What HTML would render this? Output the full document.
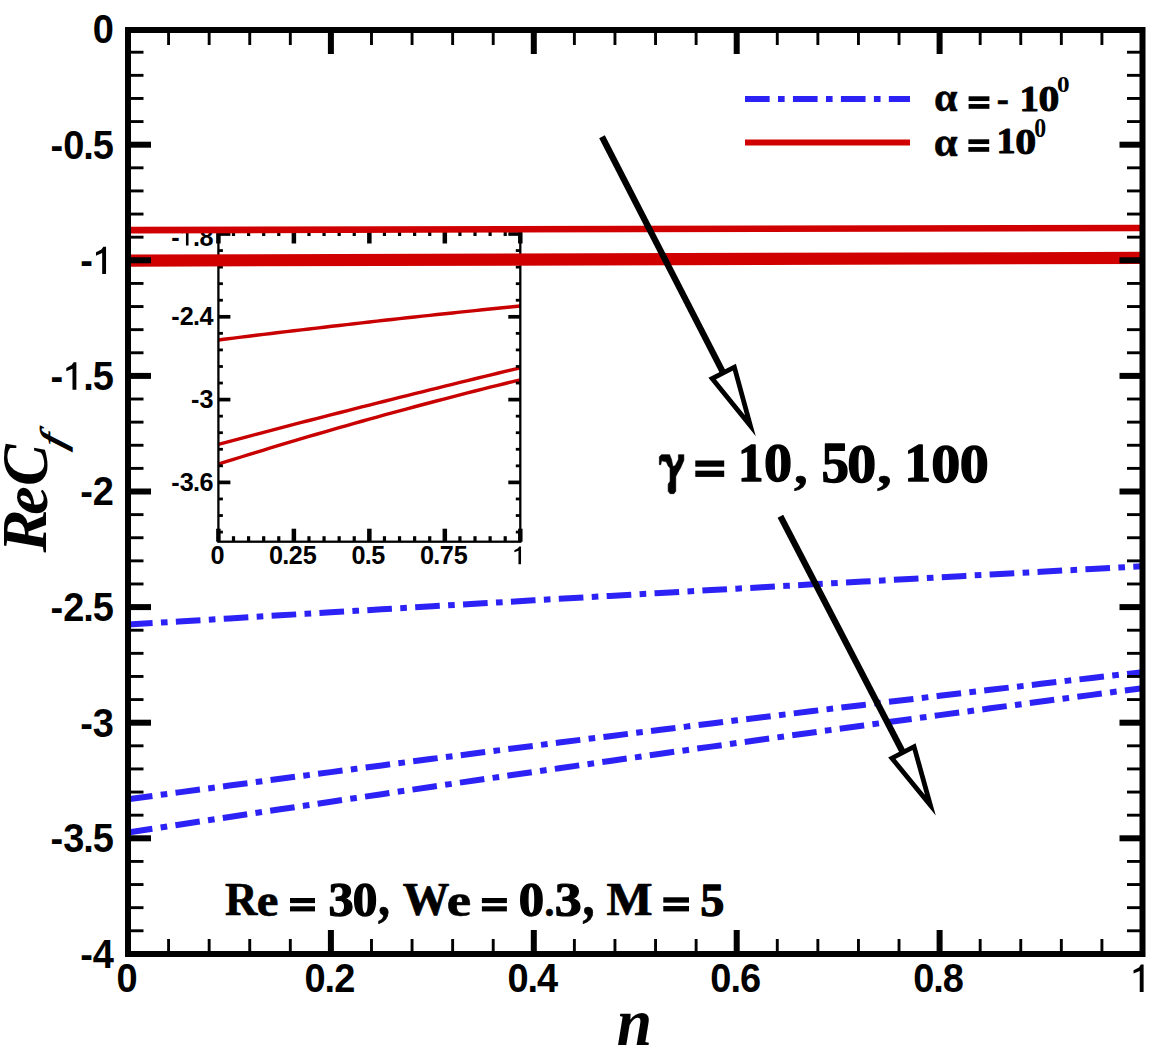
<!DOCTYPE html><html><head><meta charset="utf-8"><style>html,body{margin:0;padding:0;background:#fff;overflow:hidden;}svg{display:block;}.sans{font-family:"Liberation Sans",sans-serif;font-weight:bold;}.serif{font-family:"Liberation Serif",serif;font-weight:bold;}.serifi{font-family:"Liberation Serif",serif;font-weight:bold;font-style:italic;}.serifit{font-family:"Liberation Serif",serif;font-style:italic;}.serifr{font-family:"Liberation Serif",serif;}</style></head><body><svg width="1152" height="1051" viewBox="0 0 1152 1051"><rect x="0" y="0" width="1152" height="1051" fill="#fff"/><polyline points="128.00,624.58 153.36,623.03 178.72,621.48 204.09,619.94 229.45,618.40 254.81,616.87 280.17,615.34 305.54,613.82 330.90,612.30 356.26,610.79 381.62,609.28 406.99,607.78 432.35,606.28 457.71,604.78 483.07,603.29 508.44,601.81 533.80,600.33 559.16,598.85 584.53,597.38 609.89,595.92 635.25,594.46 660.61,593.00 685.98,591.55 711.34,590.10 736.70,588.66 762.06,587.23 787.43,585.79 812.79,584.37 838.15,582.94 863.51,581.53 888.88,580.11 914.24,578.71 939.60,577.30 964.96,575.90 990.32,574.51 1015.69,573.12 1041.05,571.74 1066.41,570.36 1091.78,568.98 1117.14,567.61 1142.50,566.25" fill="none" stroke="#2d22f5" stroke-width="6" stroke-dasharray="24.65 8.35 6.65 8.3" stroke-linecap="butt"/><polyline points="128.00,799.28 153.36,795.83 178.72,792.40 204.09,788.98 229.45,785.58 254.81,782.19 280.17,778.81 305.54,775.45 330.90,772.10 356.26,768.76 381.62,765.44 406.99,762.13 432.35,758.83 457.71,755.55 483.07,752.28 508.44,749.03 533.80,745.79 559.16,742.56 584.53,739.35 609.89,736.15 635.25,732.96 660.61,729.79 685.98,726.63 711.34,723.49 736.70,720.35 762.06,717.24 787.43,714.13 812.79,711.04 838.15,707.97 863.51,704.90 888.88,701.85 914.24,698.82 939.60,695.80 964.96,692.79 990.32,689.79 1015.69,686.81 1041.05,683.84 1066.41,680.89 1091.78,677.95 1117.14,675.02 1142.50,672.11" fill="none" stroke="#2d22f5" stroke-width="6" stroke-dasharray="24.65 8.35 6.65 8.3" stroke-linecap="butt"/><polyline points="128.00,832.50 153.36,828.60 178.72,824.72 204.09,820.85 229.45,816.99 254.81,813.15 280.17,809.33 305.54,805.52 330.90,801.72 356.26,797.94 381.62,794.18 406.99,790.43 432.35,786.69 457.71,782.97 483.07,779.27 508.44,775.58 533.80,771.91 559.16,768.25 584.53,764.60 609.89,760.97 635.25,757.36 660.61,753.76 685.98,750.17 711.34,746.60 736.70,743.05 762.06,739.51 787.43,735.99 812.79,732.48 838.15,728.98 863.51,725.50 888.88,722.04 914.24,718.59 939.60,715.15 964.96,711.74 990.32,708.33 1015.69,704.94 1041.05,701.57 1066.41,698.21 1091.78,694.86 1117.14,691.53 1142.50,688.22" fill="none" stroke="#2d22f5" stroke-width="6" stroke-dasharray="24.65 8.35 6.65 8.3" stroke-linecap="butt"/><polyline points="218.40,340.00 225.95,339.05 233.50,338.11 241.04,337.17 248.59,336.24 256.14,335.31 263.69,334.39 271.23,333.47 278.78,332.56 286.33,331.65 293.88,330.75 301.42,329.85 308.97,328.96 316.52,328.07 324.06,327.19 331.61,326.31 339.16,325.44 346.71,324.57 354.25,323.71 361.80,322.85 369.35,322.00 376.90,321.15 384.44,320.31 391.99,319.47 399.54,318.64 407.09,317.81 414.63,316.99 422.18,316.17 429.73,315.36 437.28,314.55 444.82,313.75 452.37,312.95 459.92,312.16 467.47,311.37 475.01,310.59 482.56,309.81 490.11,309.04 497.66,308.27 505.20,307.51 512.75,306.75 520.30,306.00" fill="none" stroke="#c80000" stroke-width="3.4"/><polyline points="218.40,444.30 225.95,442.29 233.50,440.29 241.04,438.29 248.59,436.29 256.14,434.30 263.69,432.31 271.23,430.34 278.78,428.36 286.33,426.39 293.88,424.43 301.42,422.46 308.97,420.51 316.52,418.56 324.06,416.62 331.61,414.68 339.16,412.74 346.71,410.81 354.25,408.88 361.80,406.97 369.35,405.05 376.90,403.14 384.44,401.24 391.99,399.33 399.54,397.44 407.09,395.55 414.63,393.66 422.18,391.79 429.73,389.91 437.28,388.04 444.82,386.18 452.37,384.31 459.92,382.46 467.47,380.61 475.01,378.77 482.56,376.93 490.11,375.09 497.66,373.26 505.20,371.44 512.75,369.62 520.30,367.80" fill="none" stroke="#c80000" stroke-width="3.4"/><polyline points="218.40,464.10 225.95,461.72 233.50,459.35 241.04,457.00 248.59,454.66 256.14,452.34 263.69,450.03 271.23,447.73 278.78,445.45 286.33,443.18 293.88,440.93 301.42,438.68 308.97,436.46 316.52,434.25 324.06,432.05 331.61,429.86 339.16,427.69 346.71,425.54 354.25,423.39 361.80,421.26 369.35,419.15 376.90,417.05 384.44,414.96 391.99,412.89 399.54,410.83 407.09,408.79 414.63,406.76 422.18,404.74 429.73,402.74 437.28,400.75 444.82,398.77 452.37,396.81 459.92,394.87 467.47,392.94 475.01,391.02 482.56,389.11 490.11,387.22 497.66,385.35 505.20,383.48 512.75,381.63 520.30,379.80" fill="none" stroke="#c80000" stroke-width="3.4"/><rect x="218.4" y="230.5" width="301.9" height="311.20000000000005" fill="none" stroke="#000" stroke-width="2.3"/><line x1="218.4" y1="234.00" x2="230.4" y2="234.00" stroke="#000" stroke-width="3.7"/><line x1="520.3" y1="234.00" x2="508.29999999999995" y2="234.00" stroke="#000" stroke-width="3.7"/><line x1="218.4" y1="250.56" x2="222.9" y2="250.56" stroke="#000" stroke-width="2.8"/><line x1="520.3" y1="250.56" x2="515.8" y2="250.56" stroke="#000" stroke-width="2.8"/><line x1="218.4" y1="267.12" x2="222.9" y2="267.12" stroke="#000" stroke-width="2.8"/><line x1="520.3" y1="267.12" x2="515.8" y2="267.12" stroke="#000" stroke-width="2.8"/><line x1="218.4" y1="283.68" x2="222.9" y2="283.68" stroke="#000" stroke-width="2.8"/><line x1="520.3" y1="283.68" x2="515.8" y2="283.68" stroke="#000" stroke-width="2.8"/><line x1="218.4" y1="300.24" x2="222.9" y2="300.24" stroke="#000" stroke-width="2.8"/><line x1="520.3" y1="300.24" x2="515.8" y2="300.24" stroke="#000" stroke-width="2.8"/><line x1="218.4" y1="316.80" x2="230.4" y2="316.80" stroke="#000" stroke-width="3.7"/><line x1="520.3" y1="316.80" x2="508.29999999999995" y2="316.80" stroke="#000" stroke-width="3.7"/><line x1="218.4" y1="333.36" x2="222.9" y2="333.36" stroke="#000" stroke-width="2.8"/><line x1="520.3" y1="333.36" x2="515.8" y2="333.36" stroke="#000" stroke-width="2.8"/><line x1="218.4" y1="349.92" x2="222.9" y2="349.92" stroke="#000" stroke-width="2.8"/><line x1="520.3" y1="349.92" x2="515.8" y2="349.92" stroke="#000" stroke-width="2.8"/><line x1="218.4" y1="366.48" x2="222.9" y2="366.48" stroke="#000" stroke-width="2.8"/><line x1="520.3" y1="366.48" x2="515.8" y2="366.48" stroke="#000" stroke-width="2.8"/><line x1="218.4" y1="383.04" x2="222.9" y2="383.04" stroke="#000" stroke-width="2.8"/><line x1="520.3" y1="383.04" x2="515.8" y2="383.04" stroke="#000" stroke-width="2.8"/><line x1="218.4" y1="399.60" x2="230.4" y2="399.60" stroke="#000" stroke-width="3.7"/><line x1="520.3" y1="399.60" x2="508.29999999999995" y2="399.60" stroke="#000" stroke-width="3.7"/><line x1="218.4" y1="416.16" x2="222.9" y2="416.16" stroke="#000" stroke-width="2.8"/><line x1="520.3" y1="416.16" x2="515.8" y2="416.16" stroke="#000" stroke-width="2.8"/><line x1="218.4" y1="432.72" x2="222.9" y2="432.72" stroke="#000" stroke-width="2.8"/><line x1="520.3" y1="432.72" x2="515.8" y2="432.72" stroke="#000" stroke-width="2.8"/><line x1="218.4" y1="449.28" x2="222.9" y2="449.28" stroke="#000" stroke-width="2.8"/><line x1="520.3" y1="449.28" x2="515.8" y2="449.28" stroke="#000" stroke-width="2.8"/><line x1="218.4" y1="465.84" x2="222.9" y2="465.84" stroke="#000" stroke-width="2.8"/><line x1="520.3" y1="465.84" x2="515.8" y2="465.84" stroke="#000" stroke-width="2.8"/><line x1="218.4" y1="482.40" x2="230.4" y2="482.40" stroke="#000" stroke-width="3.7"/><line x1="520.3" y1="482.40" x2="508.29999999999995" y2="482.40" stroke="#000" stroke-width="3.7"/><line x1="218.4" y1="498.96" x2="222.9" y2="498.96" stroke="#000" stroke-width="2.8"/><line x1="520.3" y1="498.96" x2="515.8" y2="498.96" stroke="#000" stroke-width="2.8"/><line x1="218.4" y1="515.52" x2="222.9" y2="515.52" stroke="#000" stroke-width="2.8"/><line x1="520.3" y1="515.52" x2="515.8" y2="515.52" stroke="#000" stroke-width="2.8"/><line x1="218.4" y1="532.08" x2="222.9" y2="532.08" stroke="#000" stroke-width="2.8"/><line x1="520.3" y1="532.08" x2="515.8" y2="532.08" stroke="#000" stroke-width="2.8"/><line x1="218.40" y1="541.7" x2="218.40" y2="528.7" stroke="#000" stroke-width="4.5"/><line x1="218.40" y1="230.5" x2="218.40" y2="243.5" stroke="#000" stroke-width="4.5"/><line x1="233.50" y1="541.7" x2="233.50" y2="536.2" stroke="#000" stroke-width="3.2"/><line x1="233.50" y1="230.5" x2="233.50" y2="236.0" stroke="#000" stroke-width="3.2"/><line x1="248.59" y1="541.7" x2="248.59" y2="536.2" stroke="#000" stroke-width="3.2"/><line x1="248.59" y1="230.5" x2="248.59" y2="236.0" stroke="#000" stroke-width="3.2"/><line x1="263.69" y1="541.7" x2="263.69" y2="536.2" stroke="#000" stroke-width="3.2"/><line x1="263.69" y1="230.5" x2="263.69" y2="236.0" stroke="#000" stroke-width="3.2"/><line x1="278.78" y1="541.7" x2="278.78" y2="536.2" stroke="#000" stroke-width="3.2"/><line x1="278.78" y1="230.5" x2="278.78" y2="236.0" stroke="#000" stroke-width="3.2"/><line x1="293.88" y1="541.7" x2="293.88" y2="528.7" stroke="#000" stroke-width="4.5"/><line x1="293.88" y1="230.5" x2="293.88" y2="243.5" stroke="#000" stroke-width="4.5"/><line x1="308.97" y1="541.7" x2="308.97" y2="536.2" stroke="#000" stroke-width="3.2"/><line x1="308.97" y1="230.5" x2="308.97" y2="236.0" stroke="#000" stroke-width="3.2"/><line x1="324.06" y1="541.7" x2="324.06" y2="536.2" stroke="#000" stroke-width="3.2"/><line x1="324.06" y1="230.5" x2="324.06" y2="236.0" stroke="#000" stroke-width="3.2"/><line x1="339.16" y1="541.7" x2="339.16" y2="536.2" stroke="#000" stroke-width="3.2"/><line x1="339.16" y1="230.5" x2="339.16" y2="236.0" stroke="#000" stroke-width="3.2"/><line x1="354.25" y1="541.7" x2="354.25" y2="536.2" stroke="#000" stroke-width="3.2"/><line x1="354.25" y1="230.5" x2="354.25" y2="236.0" stroke="#000" stroke-width="3.2"/><line x1="369.35" y1="541.7" x2="369.35" y2="528.7" stroke="#000" stroke-width="4.5"/><line x1="369.35" y1="230.5" x2="369.35" y2="243.5" stroke="#000" stroke-width="4.5"/><line x1="384.44" y1="541.7" x2="384.44" y2="536.2" stroke="#000" stroke-width="3.2"/><line x1="384.44" y1="230.5" x2="384.44" y2="236.0" stroke="#000" stroke-width="3.2"/><line x1="399.54" y1="541.7" x2="399.54" y2="536.2" stroke="#000" stroke-width="3.2"/><line x1="399.54" y1="230.5" x2="399.54" y2="236.0" stroke="#000" stroke-width="3.2"/><line x1="414.63" y1="541.7" x2="414.63" y2="536.2" stroke="#000" stroke-width="3.2"/><line x1="414.63" y1="230.5" x2="414.63" y2="236.0" stroke="#000" stroke-width="3.2"/><line x1="429.73" y1="541.7" x2="429.73" y2="536.2" stroke="#000" stroke-width="3.2"/><line x1="429.73" y1="230.5" x2="429.73" y2="236.0" stroke="#000" stroke-width="3.2"/><line x1="444.82" y1="541.7" x2="444.82" y2="528.7" stroke="#000" stroke-width="4.5"/><line x1="444.82" y1="230.5" x2="444.82" y2="243.5" stroke="#000" stroke-width="4.5"/><line x1="459.92" y1="541.7" x2="459.92" y2="536.2" stroke="#000" stroke-width="3.2"/><line x1="459.92" y1="230.5" x2="459.92" y2="236.0" stroke="#000" stroke-width="3.2"/><line x1="475.01" y1="541.7" x2="475.01" y2="536.2" stroke="#000" stroke-width="3.2"/><line x1="475.01" y1="230.5" x2="475.01" y2="236.0" stroke="#000" stroke-width="3.2"/><line x1="490.11" y1="541.7" x2="490.11" y2="536.2" stroke="#000" stroke-width="3.2"/><line x1="490.11" y1="230.5" x2="490.11" y2="236.0" stroke="#000" stroke-width="3.2"/><line x1="505.21" y1="541.7" x2="505.21" y2="536.2" stroke="#000" stroke-width="3.2"/><line x1="505.21" y1="230.5" x2="505.21" y2="236.0" stroke="#000" stroke-width="3.2"/><line x1="520.30" y1="541.7" x2="520.30" y2="528.7" stroke="#000" stroke-width="4.5"/><line x1="520.30" y1="230.5" x2="520.30" y2="243.5" stroke="#000" stroke-width="4.5"/><g fill="#000"><g transform="translate(171.37,325.30) scale(0.9700,1.0000)"><text class="sans" font-size="26" x="0.00" y="0">-</text><text class="sans" font-size="26" x="8.66" y="0">2</text><text class="sans" font-size="26" x="22.43" y="0">.</text><text class="sans" font-size="26" x="28.97" y="0">4</text></g><g transform="translate(191.07,408.10) scale(0.9700,1.0000)"><text class="sans" font-size="26" x="0.00" y="0">-</text><text class="sans" font-size="26" x="8.66" y="0">3</text></g><g transform="translate(171.37,490.90) scale(0.9700,1.0000)"><text class="sans" font-size="26" x="0.00" y="0">-</text><text class="sans" font-size="26" x="8.66" y="0">3</text><text class="sans" font-size="26" x="22.43" y="0">.</text><text class="sans" font-size="26" x="28.97" y="0">6</text></g><g transform="translate(171.37,245.50) scale(0.9700,1.0000)"><text class="sans" font-size="26" x="0.00" y="0">-</text><polygon points="15.03,0.00 17.68,0.00 17.68,-17.81 15.81,-17.81 14.51,-15.99 10.79,-14.17 10.79,-11.96 15.03,-13.65"/><text class="sans" font-size="26" x="22.43" y="0">.</text><text class="sans" font-size="26" x="28.97" y="0">8</text></g><g transform="translate(210.39,564.30) scale(0.9700,1.0000)"><text class="sans" font-size="26" x="0.00" y="0">0</text></g><g transform="translate(269.00,564.30) scale(0.9700,1.0000)"><text class="sans" font-size="26" x="0.00" y="0">0</text><text class="sans" font-size="26" x="13.77" y="0">.</text><text class="sans" font-size="26" x="20.31" y="0">2</text><text class="sans" font-size="26" x="34.77" y="0">5</text></g><g transform="translate(351.49,564.30) scale(0.9700,1.0000)"><text class="sans" font-size="26" x="0.00" y="0">0</text><text class="sans" font-size="26" x="13.77" y="0">.</text><text class="sans" font-size="26" x="20.31" y="0">5</text></g><g transform="translate(419.95,564.30) scale(0.9700,1.0000)"><text class="sans" font-size="26" x="0.00" y="0">0</text><text class="sans" font-size="26" x="13.77" y="0">.</text><text class="sans" font-size="26" x="20.31" y="0">7</text><text class="sans" font-size="26" x="34.77" y="0">5</text></g><g transform="translate(512.29,564.30) scale(0.9700,1.0000)"><polygon points="6.37,0.00 9.02,0.00 9.02,-17.81 7.15,-17.81 5.85,-15.99 2.13,-14.17 2.13,-11.96 6.37,-13.65"/></g></g><line x1="128.0" y1="230.1" x2="1142.5" y2="228.0" stroke="#d00000" stroke-width="6.6"/><line x1="128.0" y1="260.6" x2="1142.5" y2="257.9" stroke="#d00000" stroke-width="12.2"/><line x1="168.58" y1="954.0" x2="168.58" y2="939.0" stroke="#000" stroke-width="2.9"/><line x1="168.58" y1="30" x2="168.58" y2="45" stroke="#000" stroke-width="2.9"/><line x1="209.16" y1="954.0" x2="209.16" y2="939.0" stroke="#000" stroke-width="2.9"/><line x1="209.16" y1="30" x2="209.16" y2="45" stroke="#000" stroke-width="2.9"/><line x1="249.74" y1="954.0" x2="249.74" y2="939.0" stroke="#000" stroke-width="2.9"/><line x1="249.74" y1="30" x2="249.74" y2="45" stroke="#000" stroke-width="2.9"/><line x1="290.32" y1="954.0" x2="290.32" y2="939.0" stroke="#000" stroke-width="2.9"/><line x1="290.32" y1="30" x2="290.32" y2="45" stroke="#000" stroke-width="2.9"/><line x1="330.90" y1="954.0" x2="330.90" y2="930.0" stroke="#000" stroke-width="6"/><line x1="330.90" y1="30" x2="330.90" y2="54" stroke="#000" stroke-width="6"/><line x1="371.48" y1="954.0" x2="371.48" y2="939.0" stroke="#000" stroke-width="2.9"/><line x1="371.48" y1="30" x2="371.48" y2="45" stroke="#000" stroke-width="2.9"/><line x1="412.06" y1="954.0" x2="412.06" y2="939.0" stroke="#000" stroke-width="2.9"/><line x1="412.06" y1="30" x2="412.06" y2="45" stroke="#000" stroke-width="2.9"/><line x1="452.64" y1="954.0" x2="452.64" y2="939.0" stroke="#000" stroke-width="2.9"/><line x1="452.64" y1="30" x2="452.64" y2="45" stroke="#000" stroke-width="2.9"/><line x1="493.22" y1="954.0" x2="493.22" y2="939.0" stroke="#000" stroke-width="2.9"/><line x1="493.22" y1="30" x2="493.22" y2="45" stroke="#000" stroke-width="2.9"/><line x1="533.80" y1="954.0" x2="533.80" y2="930.0" stroke="#000" stroke-width="6"/><line x1="533.80" y1="30" x2="533.80" y2="54" stroke="#000" stroke-width="6"/><line x1="574.38" y1="954.0" x2="574.38" y2="939.0" stroke="#000" stroke-width="2.9"/><line x1="574.38" y1="30" x2="574.38" y2="45" stroke="#000" stroke-width="2.9"/><line x1="614.96" y1="954.0" x2="614.96" y2="939.0" stroke="#000" stroke-width="2.9"/><line x1="614.96" y1="30" x2="614.96" y2="45" stroke="#000" stroke-width="2.9"/><line x1="655.54" y1="954.0" x2="655.54" y2="939.0" stroke="#000" stroke-width="2.9"/><line x1="655.54" y1="30" x2="655.54" y2="45" stroke="#000" stroke-width="2.9"/><line x1="696.12" y1="954.0" x2="696.12" y2="939.0" stroke="#000" stroke-width="2.9"/><line x1="696.12" y1="30" x2="696.12" y2="45" stroke="#000" stroke-width="2.9"/><line x1="736.70" y1="954.0" x2="736.70" y2="930.0" stroke="#000" stroke-width="6"/><line x1="736.70" y1="30" x2="736.70" y2="54" stroke="#000" stroke-width="6"/><line x1="777.28" y1="954.0" x2="777.28" y2="939.0" stroke="#000" stroke-width="2.9"/><line x1="777.28" y1="30" x2="777.28" y2="45" stroke="#000" stroke-width="2.9"/><line x1="817.86" y1="954.0" x2="817.86" y2="939.0" stroke="#000" stroke-width="2.9"/><line x1="817.86" y1="30" x2="817.86" y2="45" stroke="#000" stroke-width="2.9"/><line x1="858.44" y1="954.0" x2="858.44" y2="939.0" stroke="#000" stroke-width="2.9"/><line x1="858.44" y1="30" x2="858.44" y2="45" stroke="#000" stroke-width="2.9"/><line x1="899.02" y1="954.0" x2="899.02" y2="939.0" stroke="#000" stroke-width="2.9"/><line x1="899.02" y1="30" x2="899.02" y2="45" stroke="#000" stroke-width="2.9"/><line x1="939.60" y1="954.0" x2="939.60" y2="930.0" stroke="#000" stroke-width="6"/><line x1="939.60" y1="30" x2="939.60" y2="54" stroke="#000" stroke-width="6"/><line x1="980.18" y1="954.0" x2="980.18" y2="939.0" stroke="#000" stroke-width="2.9"/><line x1="980.18" y1="30" x2="980.18" y2="45" stroke="#000" stroke-width="2.9"/><line x1="1020.76" y1="954.0" x2="1020.76" y2="939.0" stroke="#000" stroke-width="2.9"/><line x1="1020.76" y1="30" x2="1020.76" y2="45" stroke="#000" stroke-width="2.9"/><line x1="1061.34" y1="954.0" x2="1061.34" y2="939.0" stroke="#000" stroke-width="2.9"/><line x1="1061.34" y1="30" x2="1061.34" y2="45" stroke="#000" stroke-width="2.9"/><line x1="1101.92" y1="954.0" x2="1101.92" y2="939.0" stroke="#000" stroke-width="2.9"/><line x1="1101.92" y1="30" x2="1101.92" y2="45" stroke="#000" stroke-width="2.9"/><line x1="128.0" y1="52.22" x2="143.5" y2="52.22" stroke="#000" stroke-width="2.9"/><line x1="1142.5" y1="52.22" x2="1127.0" y2="52.22" stroke="#000" stroke-width="2.9"/><line x1="128.0" y1="75.34" x2="143.5" y2="75.34" stroke="#000" stroke-width="2.9"/><line x1="1142.5" y1="75.34" x2="1127.0" y2="75.34" stroke="#000" stroke-width="2.9"/><line x1="128.0" y1="98.46" x2="143.5" y2="98.46" stroke="#000" stroke-width="2.9"/><line x1="1142.5" y1="98.46" x2="1127.0" y2="98.46" stroke="#000" stroke-width="2.9"/><line x1="128.0" y1="121.58" x2="143.5" y2="121.58" stroke="#000" stroke-width="2.9"/><line x1="1142.5" y1="121.58" x2="1127.0" y2="121.58" stroke="#000" stroke-width="2.9"/><line x1="128.0" y1="144.70" x2="151.0" y2="144.70" stroke="#000" stroke-width="6"/><line x1="1142.5" y1="144.70" x2="1119.5" y2="144.70" stroke="#000" stroke-width="6"/><line x1="128.0" y1="167.82" x2="143.5" y2="167.82" stroke="#000" stroke-width="2.9"/><line x1="1142.5" y1="167.82" x2="1127.0" y2="167.82" stroke="#000" stroke-width="2.9"/><line x1="128.0" y1="190.94" x2="143.5" y2="190.94" stroke="#000" stroke-width="2.9"/><line x1="1142.5" y1="190.94" x2="1127.0" y2="190.94" stroke="#000" stroke-width="2.9"/><line x1="128.0" y1="214.06" x2="143.5" y2="214.06" stroke="#000" stroke-width="2.9"/><line x1="1142.5" y1="214.06" x2="1127.0" y2="214.06" stroke="#000" stroke-width="2.9"/><line x1="128.0" y1="237.18" x2="143.5" y2="237.18" stroke="#000" stroke-width="2.9"/><line x1="1142.5" y1="237.18" x2="1127.0" y2="237.18" stroke="#000" stroke-width="2.9"/><line x1="128.0" y1="260.30" x2="151.0" y2="260.30" stroke="#000" stroke-width="6"/><line x1="1142.5" y1="260.30" x2="1119.5" y2="260.30" stroke="#000" stroke-width="6"/><line x1="128.0" y1="283.42" x2="143.5" y2="283.42" stroke="#000" stroke-width="2.9"/><line x1="1142.5" y1="283.42" x2="1127.0" y2="283.42" stroke="#000" stroke-width="2.9"/><line x1="128.0" y1="306.54" x2="143.5" y2="306.54" stroke="#000" stroke-width="2.9"/><line x1="1142.5" y1="306.54" x2="1127.0" y2="306.54" stroke="#000" stroke-width="2.9"/><line x1="128.0" y1="329.66" x2="143.5" y2="329.66" stroke="#000" stroke-width="2.9"/><line x1="1142.5" y1="329.66" x2="1127.0" y2="329.66" stroke="#000" stroke-width="2.9"/><line x1="128.0" y1="352.78" x2="143.5" y2="352.78" stroke="#000" stroke-width="2.9"/><line x1="1142.5" y1="352.78" x2="1127.0" y2="352.78" stroke="#000" stroke-width="2.9"/><line x1="128.0" y1="375.90" x2="151.0" y2="375.90" stroke="#000" stroke-width="6"/><line x1="1142.5" y1="375.90" x2="1119.5" y2="375.90" stroke="#000" stroke-width="6"/><line x1="128.0" y1="399.02" x2="143.5" y2="399.02" stroke="#000" stroke-width="2.9"/><line x1="1142.5" y1="399.02" x2="1127.0" y2="399.02" stroke="#000" stroke-width="2.9"/><line x1="128.0" y1="422.14" x2="143.5" y2="422.14" stroke="#000" stroke-width="2.9"/><line x1="1142.5" y1="422.14" x2="1127.0" y2="422.14" stroke="#000" stroke-width="2.9"/><line x1="128.0" y1="445.26" x2="143.5" y2="445.26" stroke="#000" stroke-width="2.9"/><line x1="1142.5" y1="445.26" x2="1127.0" y2="445.26" stroke="#000" stroke-width="2.9"/><line x1="128.0" y1="468.38" x2="143.5" y2="468.38" stroke="#000" stroke-width="2.9"/><line x1="1142.5" y1="468.38" x2="1127.0" y2="468.38" stroke="#000" stroke-width="2.9"/><line x1="128.0" y1="491.50" x2="151.0" y2="491.50" stroke="#000" stroke-width="6"/><line x1="1142.5" y1="491.50" x2="1119.5" y2="491.50" stroke="#000" stroke-width="6"/><line x1="128.0" y1="514.62" x2="143.5" y2="514.62" stroke="#000" stroke-width="2.9"/><line x1="1142.5" y1="514.62" x2="1127.0" y2="514.62" stroke="#000" stroke-width="2.9"/><line x1="128.0" y1="537.74" x2="143.5" y2="537.74" stroke="#000" stroke-width="2.9"/><line x1="1142.5" y1="537.74" x2="1127.0" y2="537.74" stroke="#000" stroke-width="2.9"/><line x1="128.0" y1="560.86" x2="143.5" y2="560.86" stroke="#000" stroke-width="2.9"/><line x1="1142.5" y1="560.86" x2="1127.0" y2="560.86" stroke="#000" stroke-width="2.9"/><line x1="128.0" y1="583.98" x2="143.5" y2="583.98" stroke="#000" stroke-width="2.9"/><line x1="1142.5" y1="583.98" x2="1127.0" y2="583.98" stroke="#000" stroke-width="2.9"/><line x1="128.0" y1="607.10" x2="151.0" y2="607.10" stroke="#000" stroke-width="6"/><line x1="1142.5" y1="607.10" x2="1119.5" y2="607.10" stroke="#000" stroke-width="6"/><line x1="128.0" y1="630.22" x2="143.5" y2="630.22" stroke="#000" stroke-width="2.9"/><line x1="1142.5" y1="630.22" x2="1127.0" y2="630.22" stroke="#000" stroke-width="2.9"/><line x1="128.0" y1="653.34" x2="143.5" y2="653.34" stroke="#000" stroke-width="2.9"/><line x1="1142.5" y1="653.34" x2="1127.0" y2="653.34" stroke="#000" stroke-width="2.9"/><line x1="128.0" y1="676.46" x2="143.5" y2="676.46" stroke="#000" stroke-width="2.9"/><line x1="1142.5" y1="676.46" x2="1127.0" y2="676.46" stroke="#000" stroke-width="2.9"/><line x1="128.0" y1="699.58" x2="143.5" y2="699.58" stroke="#000" stroke-width="2.9"/><line x1="1142.5" y1="699.58" x2="1127.0" y2="699.58" stroke="#000" stroke-width="2.9"/><line x1="128.0" y1="722.70" x2="151.0" y2="722.70" stroke="#000" stroke-width="6"/><line x1="1142.5" y1="722.70" x2="1119.5" y2="722.70" stroke="#000" stroke-width="6"/><line x1="128.0" y1="745.82" x2="143.5" y2="745.82" stroke="#000" stroke-width="2.9"/><line x1="1142.5" y1="745.82" x2="1127.0" y2="745.82" stroke="#000" stroke-width="2.9"/><line x1="128.0" y1="768.94" x2="143.5" y2="768.94" stroke="#000" stroke-width="2.9"/><line x1="1142.5" y1="768.94" x2="1127.0" y2="768.94" stroke="#000" stroke-width="2.9"/><line x1="128.0" y1="792.06" x2="143.5" y2="792.06" stroke="#000" stroke-width="2.9"/><line x1="1142.5" y1="792.06" x2="1127.0" y2="792.06" stroke="#000" stroke-width="2.9"/><line x1="128.0" y1="815.18" x2="143.5" y2="815.18" stroke="#000" stroke-width="2.9"/><line x1="1142.5" y1="815.18" x2="1127.0" y2="815.18" stroke="#000" stroke-width="2.9"/><line x1="128.0" y1="838.30" x2="151.0" y2="838.30" stroke="#000" stroke-width="6"/><line x1="1142.5" y1="838.30" x2="1119.5" y2="838.30" stroke="#000" stroke-width="6"/><line x1="128.0" y1="861.42" x2="143.5" y2="861.42" stroke="#000" stroke-width="2.9"/><line x1="1142.5" y1="861.42" x2="1127.0" y2="861.42" stroke="#000" stroke-width="2.9"/><line x1="128.0" y1="884.54" x2="143.5" y2="884.54" stroke="#000" stroke-width="2.9"/><line x1="1142.5" y1="884.54" x2="1127.0" y2="884.54" stroke="#000" stroke-width="2.9"/><line x1="128.0" y1="907.66" x2="143.5" y2="907.66" stroke="#000" stroke-width="2.9"/><line x1="1142.5" y1="907.66" x2="1127.0" y2="907.66" stroke="#000" stroke-width="2.9"/><line x1="128.0" y1="930.78" x2="143.5" y2="930.78" stroke="#000" stroke-width="2.9"/><line x1="1142.5" y1="930.78" x2="1127.0" y2="930.78" stroke="#000" stroke-width="2.9"/><rect x="128.0" y="30" width="1014.5" height="924.0" fill="none" stroke="#000" stroke-width="6"/><g fill="#000"><g transform="translate(92.87,42.90) scale(0.9500,1.0000)"><text class="sans" font-size="40" x="0.00" y="0">0</text></g><g transform="translate(50.53,158.50) scale(0.9500,1.0000)"><text class="sans" font-size="40" x="0.00" y="0">-</text><text class="sans" font-size="40" x="13.32" y="0">0</text><text class="sans" font-size="40" x="34.51" y="0">.</text><text class="sans" font-size="40" x="44.57" y="0">5</text></g><g transform="translate(80.21,274.10) scale(0.9500,1.0000)"><text class="sans" font-size="40" x="0.00" y="0">-</text><polygon points="23.12,0.00 27.20,0.00 27.20,-27.40 24.32,-27.40 22.32,-24.60 16.60,-21.80 16.60,-18.40 23.12,-21.00"/></g><g transform="translate(50.53,389.70) scale(0.9500,1.0000)"><text class="sans" font-size="40" x="0.00" y="0">-</text><polygon points="23.12,0.00 27.20,0.00 27.20,-27.40 24.32,-27.40 22.32,-24.60 16.60,-21.80 16.60,-18.40 23.12,-21.00"/><text class="sans" font-size="40" x="34.51" y="0">.</text><text class="sans" font-size="40" x="44.57" y="0">5</text></g><g transform="translate(80.21,505.30) scale(0.9500,1.0000)"><text class="sans" font-size="40" x="0.00" y="0">-</text><text class="sans" font-size="40" x="13.32" y="0">2</text></g><g transform="translate(50.53,620.90) scale(0.9500,1.0000)"><text class="sans" font-size="40" x="0.00" y="0">-</text><text class="sans" font-size="40" x="13.32" y="0">2</text><text class="sans" font-size="40" x="34.51" y="0">.</text><text class="sans" font-size="40" x="44.57" y="0">5</text></g><g transform="translate(80.21,736.50) scale(0.9500,1.0000)"><text class="sans" font-size="40" x="0.00" y="0">-</text><text class="sans" font-size="40" x="13.32" y="0">3</text></g><g transform="translate(50.53,852.10) scale(0.9500,1.0000)"><text class="sans" font-size="40" x="0.00" y="0">-</text><text class="sans" font-size="40" x="13.32" y="0">3</text><text class="sans" font-size="40" x="34.51" y="0">.</text><text class="sans" font-size="40" x="44.57" y="0">5</text></g><g transform="translate(80.21,967.70) scale(0.9500,1.0000)"><text class="sans" font-size="40" x="0.00" y="0">-</text><text class="sans" font-size="40" x="13.32" y="0">4</text></g><g transform="translate(116.43,992.00) scale(0.9500,1.0000)"><text class="sans" font-size="40" x="0.00" y="0">0</text></g><g transform="translate(304.49,992.00) scale(0.9500,1.0000)"><text class="sans" font-size="40" x="0.00" y="0">0</text><text class="sans" font-size="40" x="21.19" y="0">.</text><text class="sans" font-size="40" x="31.25" y="0">2</text></g><g transform="translate(507.39,992.00) scale(0.9500,1.0000)"><text class="sans" font-size="40" x="0.00" y="0">0</text><text class="sans" font-size="40" x="21.19" y="0">.</text><text class="sans" font-size="40" x="31.25" y="0">4</text></g><g transform="translate(710.29,992.00) scale(0.9500,1.0000)"><text class="sans" font-size="40" x="0.00" y="0">0</text><text class="sans" font-size="40" x="21.19" y="0">.</text><text class="sans" font-size="40" x="31.25" y="0">6</text></g><g transform="translate(913.19,992.00) scale(0.9500,1.0000)"><text class="sans" font-size="40" x="0.00" y="0">0</text><text class="sans" font-size="40" x="21.19" y="0">.</text><text class="sans" font-size="40" x="31.25" y="0">8</text></g><g transform="translate(1130.43,992.00) scale(0.9500,1.0000)"><polygon points="9.80,0.00 13.88,0.00 13.88,-27.40 11.00,-27.40 9.00,-24.60 3.28,-21.80 3.28,-18.40 9.80,-21.00"/></g></g><line x1="745" y1="99" x2="910" y2="99" stroke="#2d22f5" stroke-width="6" stroke-dasharray="24.65 8.35 6.65 8.3"/><line x1="745" y1="142.5" x2="910" y2="142.5" stroke="#d00000" stroke-width="6"/><g fill="#000"><text class="serif" font-size="37.5" transform="translate(934.08,111.03) scale(1.1236,1.1333)" stroke="#000" stroke-width="0.443" stroke-linejoin="round">α</text><rect x="968.60" y="96.30" width="20.80" height="4.75" fill="#000"/><rect x="968.60" y="104.05" width="20.80" height="4.75" fill="#000"/><text class="serif" font-size="37.5" transform="translate(996.77,111.78) scale(0.9744,1.0980)" stroke="#000" stroke-width="0.483" stroke-linejoin="round">-</text><text class="serif" font-size="37.5" transform="translate(1019.39,110.50) scale(1.0378,0.9697)" stroke="#000" stroke-width="0.996" stroke-linejoin="round">1</text><text class="serif" font-size="37.5" transform="translate(1038.53,110.64) scale(1.1111,0.9679)" stroke="#000" stroke-width="0.962" stroke-linejoin="round">0</text><text class="serif" font-size="24" transform="translate(1056.99,91.96) scale(1.0516,0.9815)">0</text><text class="serif" font-size="37.5" transform="translate(933.75,155.62) scale(1.1443,1.1500)" stroke="#000" stroke-width="0.436" stroke-linejoin="round">α</text><rect x="968.40" y="139.30" width="20.80" height="4.75" fill="#000"/><rect x="968.40" y="147.05" width="20.80" height="4.75" fill="#000"/><text class="serif" font-size="37.5" transform="translate(996.53,153.25) scale(1.0234,0.9556)" stroke="#000" stroke-width="1.011" stroke-linejoin="round">1</text><text class="serif" font-size="37.5" transform="translate(1015.22,153.64) scale(1.1175,0.9640)" stroke="#000" stroke-width="0.961" stroke-linejoin="round">0</text><text class="serif" font-size="24" transform="translate(1034.35,136.73) scale(0.9921,1.1235)">0</text></g><g fill="#000"><polygon points="659.37,464.65 659.37,456.80 661.51,454.66 669.60,454.66 671.50,459.41 672.93,466.55 675.31,465.60 678.40,459.41 678.40,454.66 683.87,454.66 683.87,460.37 680.54,467.98 677.68,472.73 675.78,476.54 675.78,491.28 673.88,493.66 670.07,493.66 668.17,491.28 668.17,484.15 670.07,481.29 670.07,467.98 668.17,466.07 666.27,461.79 661.51,460.84 660.80,464.65" fill="#000" stroke="#000" stroke-width="0.6" stroke-linejoin="round"/><rect x="695.30" y="460.50" width="28.90" height="6.23" fill="#000"/><rect x="695.30" y="470.67" width="28.90" height="6.23" fill="#000"/><text class="serif" font-size="56.5" transform="translate(738.01,480.90) scale(0.9041,0.9708)" stroke="#000" stroke-width="1.493" stroke-linejoin="round">1</text><text class="serif" font-size="56.5" transform="translate(764.05,481.25) scale(0.9945,0.9728)" stroke="#000" stroke-width="1.423" stroke-linejoin="round">0</text><text class="serif" font-size="56.5" transform="translate(793.88,483.21) scale(0.9712,0.8555)" stroke="#000" stroke-width="0.876" stroke-linejoin="round">,</text><text class="serif" font-size="56.5" transform="translate(821.50,481.74) scale(0.9745,0.9927)" stroke="#000" stroke-width="1.423" stroke-linejoin="round">5</text><text class="serif" font-size="56.5" transform="translate(847.19,481.75) scale(1.0240,0.9780)" stroke="#000" stroke-width="1.399" stroke-linejoin="round">0</text><text class="serif" font-size="56.5" transform="translate(876.91,483.21) scale(1.0529,0.8555)" stroke="#000" stroke-width="0.838" stroke-linejoin="round">,</text><text class="serif" font-size="56.5" transform="translate(904.46,480.90) scale(0.9376,0.9627)" stroke="#000" stroke-width="1.473" stroke-linejoin="round">1</text><text class="serif" font-size="56.5" transform="translate(931.18,481.75) scale(1.0282,0.9780)" stroke="#000" stroke-width="1.396" stroke-linejoin="round">0</text><text class="serif" font-size="56.5" transform="translate(959.78,481.75) scale(1.0282,0.9780)" stroke="#000" stroke-width="1.396" stroke-linejoin="round">0</text><text class="serif" font-size="47" transform="translate(224.88,914.95) scale(0.9552,0.9680)" stroke="#000" stroke-width="0.728" stroke-linejoin="round">R</text><text class="serif" font-size="47" transform="translate(256.64,915.68) scale(1.0390,0.9929)" stroke="#000" stroke-width="0.689" stroke-linejoin="round">e</text><rect x="290.00" y="898.00" width="25.00" height="5.09" fill="#000"/><rect x="290.00" y="906.31" width="25.00" height="5.09" fill="#000"/><text class="serif" font-size="47" transform="translate(328.44,915.77) scale(1.0713,1.0257)" stroke="#000" stroke-width="1.240" stroke-linejoin="round">3</text><text class="serif" font-size="47" transform="translate(352.68,915.77) scale(1.0486,1.0181)" stroke="#000" stroke-width="1.258" stroke-linejoin="round">0</text><text class="serif" font-size="47" transform="translate(377.93,915.07) scale(1.0256,1.1773)" stroke="#000" stroke-width="0.636" stroke-linejoin="round">,</text><text class="serif" font-size="47" transform="translate(402.65,914.97) scale(0.9936,0.9686)" stroke="#000" stroke-width="0.713" stroke-linejoin="round">W</text><text class="serif" font-size="47" transform="translate(446.72,915.68) scale(1.1716,0.9929)" stroke="#000" stroke-width="0.647" stroke-linejoin="round">e</text><rect x="481.90" y="898.00" width="25.00" height="5.09" fill="#000"/><rect x="481.90" y="906.31" width="25.00" height="5.09" fill="#000"/><text class="serif" font-size="47" transform="translate(518.82,915.77) scale(1.0790,1.0181)" stroke="#000" stroke-width="1.240" stroke-linejoin="round">0</text><text class="serif" font-size="47" transform="translate(544.58,915.51) scale(0.8378,0.9043)" stroke="#000" stroke-width="0.804" stroke-linejoin="round">.</text><text class="serif" font-size="47" transform="translate(554.74,915.77) scale(1.1489,1.0257)" stroke="#000" stroke-width="1.196" stroke-linejoin="round">3</text><text class="serif" font-size="47" transform="translate(582.42,915.07) scale(1.0366,1.1773)" stroke="#000" stroke-width="0.632" stroke-linejoin="round">,</text><text class="serif" font-size="47" transform="translate(606.62,914.95) scale(1.0378,0.9680)" stroke="#000" stroke-width="0.698" stroke-linejoin="round">M</text><rect x="663.30" y="897.30" width="25.70" height="5.36" fill="#000"/><rect x="663.30" y="906.04" width="25.70" height="5.36" fill="#000"/><text class="serif" font-size="47" transform="translate(700.32,915.79) scale(1.0263,0.9854)" stroke="#000" stroke-width="1.292" stroke-linejoin="round">5</text></g><line x1="602" y1="136.7" x2="723.25" y2="372.90" stroke="#000" stroke-width="6.3"/><polygon points="750.42,425.84 712.13,378.61 734.37,367.20" fill="#fff" stroke="#000" stroke-width="4.8" stroke-linejoin="miter" stroke-miterlimit="10"/><line x1="780.4" y1="516.2" x2="902.98" y2="752.44" stroke="#000" stroke-width="6.3"/><polygon points="930.39,805.26 891.89,758.20 914.08,746.68" fill="#fff" stroke="#000" stroke-width="4.8" stroke-linejoin="miter" stroke-miterlimit="10"/><g fill="#000"><text class="serifi" font-size="66.6" transform="translate(616.73,1044.70) scale(0.9520,0.9999)">n</text><g transform="translate(46,552.4) rotate(-90)"><text class="serifi" font-size="64" transform="translate(0.00,0.00) scale(1.0069,1.0019)">R</text><text class="serifi" font-size="64" transform="translate(37.60,0.68) scale(1.0008,0.9766)">e</text><text class="serifi" font-size="64" transform="translate(66.32,1.34) scale(0.9741,1.0261)">C</text><text class="serifi" font-size="36.5" transform="translate(102.45,18.74) scale(1.1008,0.9887) skewX(-16)">f</text></g></g></svg></body></html>
